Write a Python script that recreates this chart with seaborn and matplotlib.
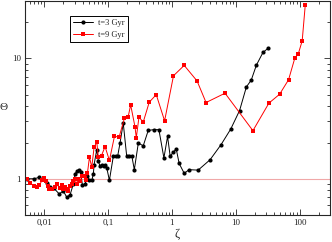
import numpy as np
import pandas as pd
import matplotlib
matplotlib.use("Agg")
import matplotlib.pyplot as plt
import seaborn as sns

# t=3 Gyr (black circles)
zeta_3 = [0.0053, 0.0070, 0.0084, 0.0110, 0.0124, 0.0140, 0.0171, 0.0200, 0.0226, 0.0255,
          0.0287, 0.0305, 0.0331, 0.0354, 0.0374, 0.0397, 0.0438, 0.0465, 0.0510, 0.0556,
          0.0589, 0.0604, 0.0666, 0.0705, 0.0750, 0.0800, 0.0850, 0.0895, 0.0955, 0.105,
          0.121, 0.133, 0.142, 0.154, 0.173, 0.196, 0.215, 0.235, 0.258, 0.298,
          0.356, 0.426, 0.518, 0.626, 0.750, 0.856, 0.94, 1.05, 1.17, 1.30,
          1.56, 1.86, 2.58, 3.97, 5.89, 8.36, 11.5, 14.7, 17.5, 21.1,
          26.7, 32.4]
theta_3 = [1.00, 1.00, 1.03, 0.92, 0.85, 0.84, 0.75, 0.79, 0.70, 0.74,
           0.91, 1.10, 1.17, 1.19, 1.13, 0.88, 0.90, 1.06, 0.97, 0.97,
           1.10, 1.31, 1.75, 1.40, 1.27, 1.31, 1.27, 1.31, 1.23, 0.97,
           1.54, 1.54, 1.56, 1.98, 2.90, 1.54, 1.54, 1.56, 1.19, 1.98,
           1.88, 2.52, 2.56, 2.56, 1.49, 2.25, 1.54, 1.66, 1.77, 1.34,
           1.11, 1.19, 1.18, 1.44, 1.92, 2.59, 3.69, 5.8, 6.6, 8.8,
           11.2, 12.2]

# t=9 Gyr (red squares)
zeta_9 = [0.0053, 0.0060, 0.0068, 0.0076, 0.0084, 0.0092, 0.0098, 0.0105, 0.0113, 0.0121,
          0.0132, 0.0145, 0.0158, 0.0174, 0.0189, 0.0200, 0.0213, 0.0226, 0.0240, 0.0255,
          0.0271, 0.0287, 0.0305, 0.0324, 0.0344, 0.0365, 0.0387, 0.0422, 0.0446, 0.0475,
          0.0511, 0.0556, 0.0604, 0.0666, 0.0705, 0.079, 0.0898, 0.105, 0.126, 0.149,
          0.180, 0.207, 0.226, 0.264, 0.277, 0.305, 0.356, 0.442, 0.569, 0.769,
          1.06, 1.56, 2.48, 3.43, 6.8, 18.6, 33.1, 48.7, 67.3, 84.5,
          95.5, 110, 123]
theta_9 = [1.00, 0.93, 0.87, 0.86, 0.88, 0.97, 1.02, 0.955, 0.87, 0.83,
           0.83, 0.86, 0.90, 0.84, 0.88, 0.82, 0.86, 0.83, 0.79, 0.87,
           0.90, 0.955, 0.99, 0.90, 1.00, 0.955, 1.05, 1.06, 0.97, 1.11,
           1.51, 1.25, 1.82, 2.02, 1.51, 1.56, 1.85, 1.42, 2.25, 2.22,
           3.17, 3.29, 4.11, 2.71, 2.19, 3.25, 2.96, 4.33, 5.0, 3.03,
           7.18, 8.75, 6.5, 4.30, 5.14, 2.51, 4.25, 5.04, 6.65, 10.1,
           10.9, 14.0, 27.9]

xtick_vals = [0.01, 0.1, 1, 10, 100]
xtick_labels = ["0,01", "0,1", "1", "10", "100"]
ytick_vals = [1, 10]
ytick_labels = ["1", "10"]

sns.set_style("ticks")
plt.rcParams["font.family"] = ["Liberation Serif", "DejaVu Serif"]

fig = plt.figure(figsize=(3.32, 2.42), dpi=100)
ax = fig.add_axes([25 / 332, 27 / 242, 305 / 332, 214 / 242])

ax.axhline(1, color="#f0a8a8", lw=0.8, zorder=1)

sns.lineplot(x=zeta_3, y=theta_3, ax=ax, color="black", marker="o", markersize=3,
             markeredgewidth=0, lw=0.7, sort=False, estimator=None, label="t=3 Gyr")
sns.lineplot(x=zeta_9, y=theta_9, ax=ax, color="red", marker="s", markersize=2.8,
             markeredgewidth=0, lw=0.7, sort=False, estimator=None, label="t=9 Gyr")

ax.set_xscale("log")
ax.set_yscale("log")
ax.set_xlim(0.005, 300)
ax.set_ylim(0.5, 30)

ax.set_xticks(xtick_vals)
ax.set_xticklabels(xtick_labels)
ax.set_yticks(ytick_vals)
ax.set_yticklabels(ytick_labels)

ax.tick_params(which="both", direction="in", top=True, right=True, labelsize=6.5, pad=3, width=0.6)
ax.tick_params(which="major", length=4)
ax.tick_params(which="minor", length=2)
for s in ax.spines.values():
    s.set_linewidth(0.8)

ax.set_xlabel("ζ", fontsize=9, labelpad=1)
ax.set_ylabel("Θ", fontsize=8, rotation=0, labelpad=6, va="center")

leg = ax.legend(loc="upper left", bbox_to_anchor=(0.148, 0.93), borderaxespad=0,
                fontsize=6, fancybox=False, edgecolor="black", framealpha=1,
                handlelength=2.4, borderpad=0.4, labelspacing=0.4, handletextpad=0.5)
leg.get_frame().set_linewidth(0.7)

fig.savefig("out.png", dpi=100)
